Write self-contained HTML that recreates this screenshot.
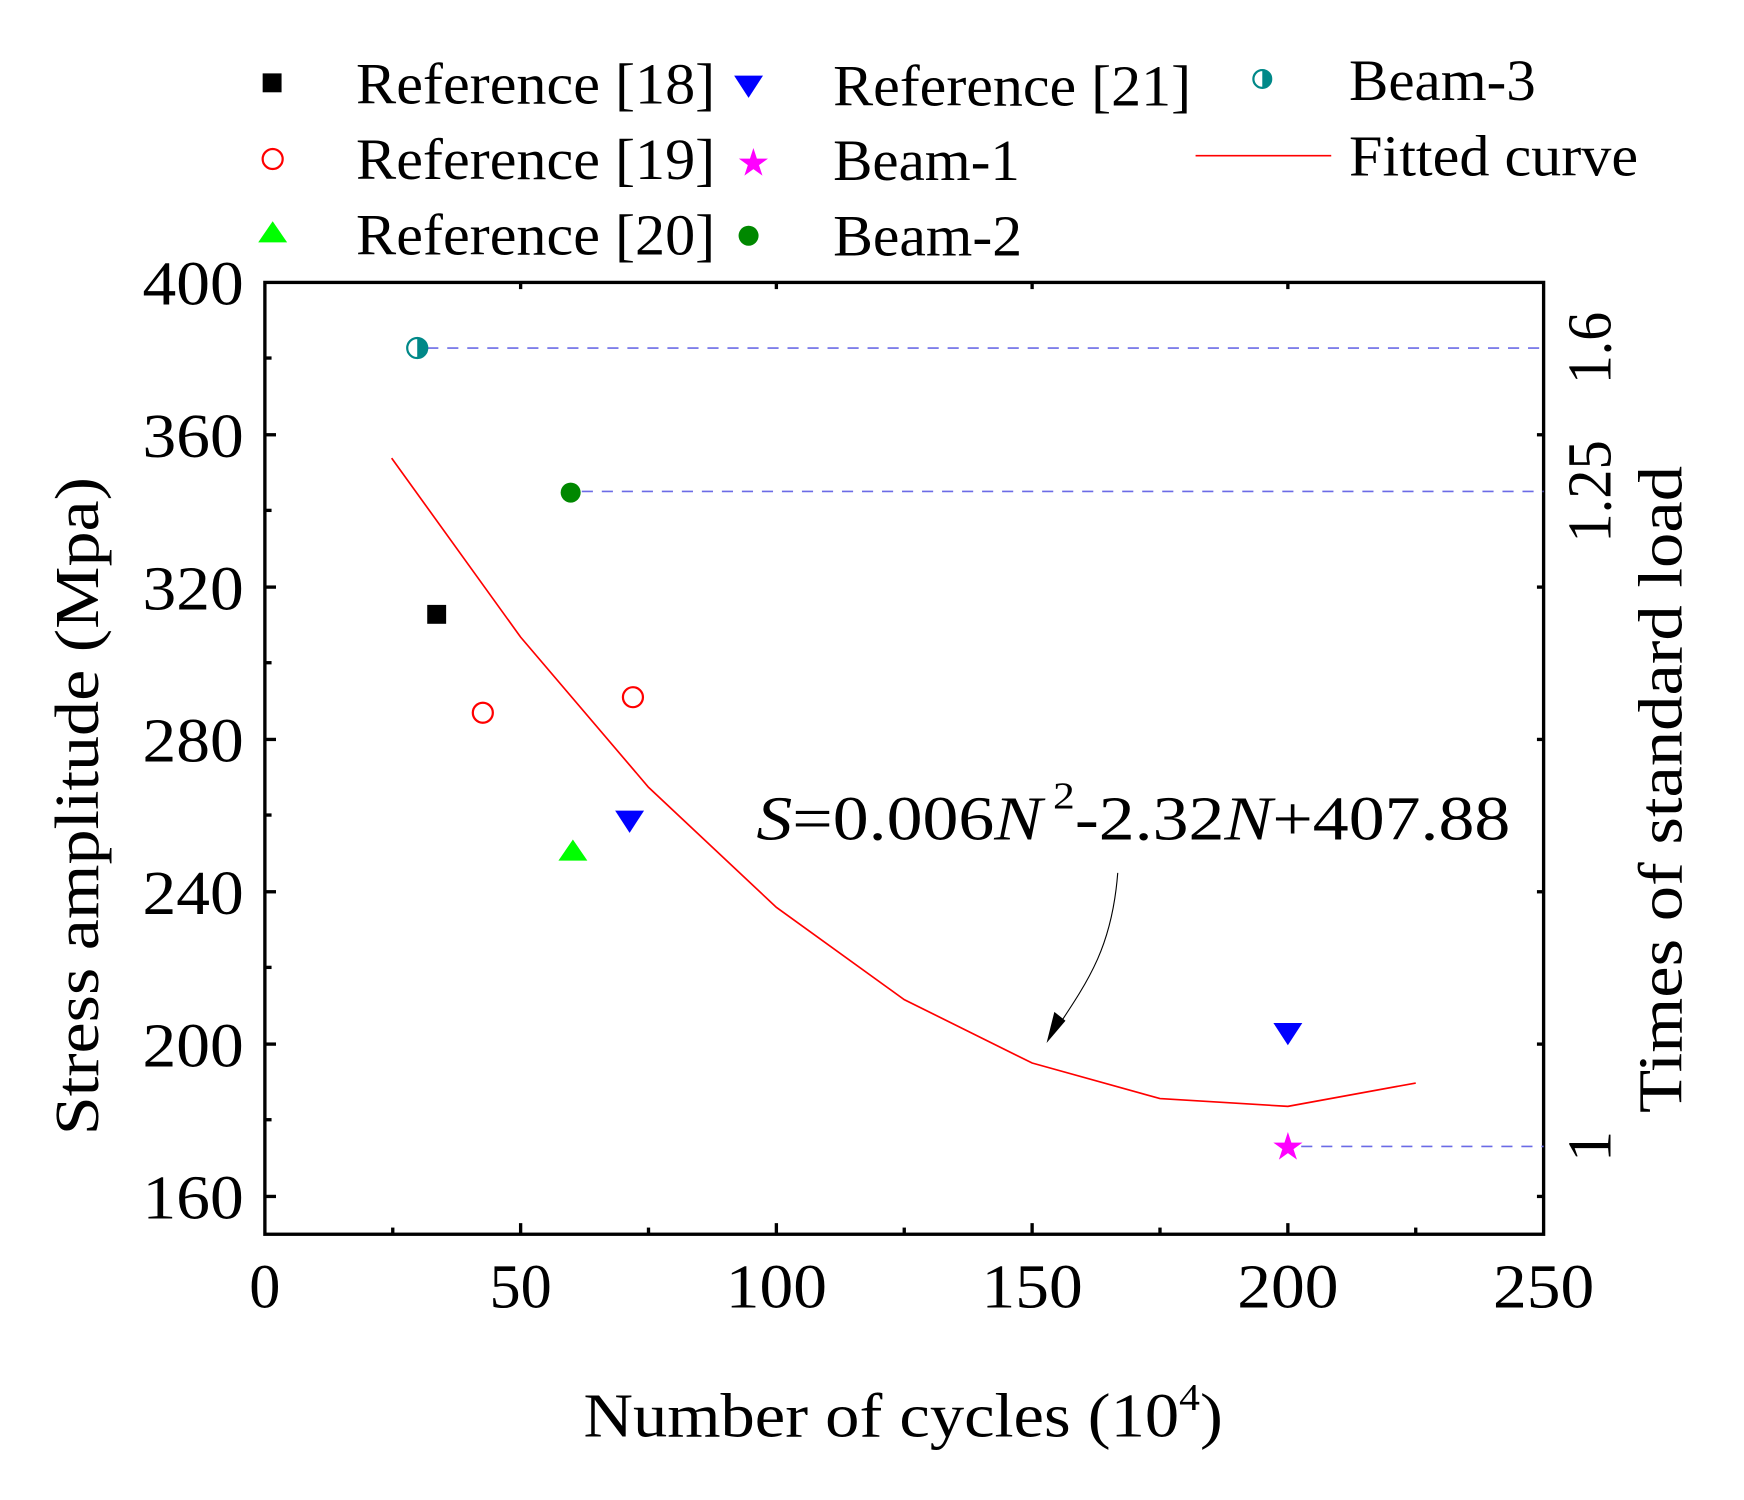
<!DOCTYPE html>
<html><head><meta charset="utf-8"><style>html,body{margin:0;padding:0;background:#fff}svg{display:block}</style></head>
<body>
<svg width="1744" height="1500" viewBox="0 0 1568 1349" xmlns="http://www.w3.org/2000/svg" font-family="Liberation Serif, serif">
<rect width="1568" height="1349" fill="#fff"/>
<!-- legend -->
<g font-size="52" fill="#000">
<rect x="236" y="66" width="17" height="17" fill="#000"/>
<text x="320" y="93" textLength="323" lengthAdjust="spacingAndGlyphs">Reference [18]</text>
<circle cx="245" cy="143" r="9" fill="none" stroke="#f00" stroke-width="2"/>
<text x="320" y="161" textLength="323" lengthAdjust="spacingAndGlyphs">Reference [19]</text>
<polygon points="245,199 258,218 232,218" fill="#0f0"/>
<text x="320" y="229" textLength="323" lengthAdjust="spacingAndGlyphs">Reference [20]</text>
<polygon points="660,68 686,68 673,88" fill="#00f"/>
<text x="749" y="95" textLength="322" lengthAdjust="spacingAndGlyphs">Reference [21]</text>
<text x="662" y="158" font-size="34" fill="#f0f">★</text>
<text x="749" y="162" textLength="168" lengthAdjust="spacingAndGlyphs">Beam-1</text>
<circle cx="673" cy="212" r="9" fill="#080"/>
<text x="749" y="230" textLength="170" lengthAdjust="spacingAndGlyphs">Beam-2</text>
<circle cx="1135" cy="71" r="8" fill="#fff" stroke="#088" stroke-width="2"/>
<path d="M1135,63 A8,8 0 0 1 1135,79 Z" fill="#088"/>
<text x="1213" y="90" textLength="168" lengthAdjust="spacingAndGlyphs">Beam-3</text>
<line x1="1075" y1="140" x2="1197" y2="140" stroke="#f00" stroke-width="1.5"/>
<text x="1213" y="158" textLength="260" lengthAdjust="spacingAndGlyphs">Fitted curve</text>
</g>
<!-- axes -->
<rect x="238" y="254" width="1150" height="856" fill="none" stroke="#000" stroke-width="3"/>
<g stroke="#000" stroke-width="3">
<line x1="468" y1="1110" x2="468" y2="1100"/><line x1="698" y1="1110" x2="698" y2="1100"/><line x1="928" y1="1110" x2="928" y2="1100"/><line x1="1158" y1="1110" x2="1158" y2="1100"/>
<line x1="353" y1="1110" x2="353" y2="1104"/><line x1="583" y1="1110" x2="583" y2="1104"/><line x1="813" y1="1110" x2="813" y2="1104"/><line x1="1043" y1="1110" x2="1043" y2="1104"/><line x1="1273" y1="1110" x2="1273" y2="1104"/>
<line x1="468" y1="254" x2="468" y2="260"/><line x1="698" y1="254" x2="698" y2="260"/><line x1="928" y1="254" x2="928" y2="260"/><line x1="1158" y1="254" x2="1158" y2="260"/>
<line x1="238" y1="391" x2="248" y2="391"/><line x1="238" y1="528" x2="248" y2="528"/><line x1="238" y1="665" x2="248" y2="665"/><line x1="238" y1="802" x2="248" y2="802"/><line x1="238" y1="939" x2="248" y2="939"/><line x1="238" y1="1076" x2="248" y2="1076"/>
<line x1="238" y1="322" x2="244" y2="322"/><line x1="238" y1="459" x2="244" y2="459"/><line x1="238" y1="596" x2="244" y2="596"/><line x1="238" y1="733" x2="244" y2="733"/><line x1="238" y1="870" x2="244" y2="870"/><line x1="238" y1="1007" x2="244" y2="1007"/>
<line x1="1388" y1="391" x2="1382" y2="391"/><line x1="1388" y1="528" x2="1382" y2="528"/><line x1="1388" y1="665" x2="1382" y2="665"/><line x1="1388" y1="802" x2="1382" y2="802"/><line x1="1388" y1="939" x2="1382" y2="939"/><line x1="1388" y1="1076" x2="1382" y2="1076"/>
</g>
<g font-size="56" fill="#000" text-anchor="end">
<text x="219" y="274" textLength="91" lengthAdjust="spacingAndGlyphs">400</text><text x="219" y="411" textLength="91" lengthAdjust="spacingAndGlyphs">360</text><text x="219" y="548" textLength="91" lengthAdjust="spacingAndGlyphs">320</text><text x="219" y="685" textLength="91" lengthAdjust="spacingAndGlyphs">280</text><text x="219" y="822" textLength="91" lengthAdjust="spacingAndGlyphs">240</text><text x="219" y="959" textLength="91" lengthAdjust="spacingAndGlyphs">200</text><text x="219" y="1096" textLength="91" lengthAdjust="spacingAndGlyphs">160</text>
</g>
<g font-size="56" fill="#000" text-anchor="middle">
<text x="238" y="1176">0</text><text x="468" y="1176">50</text><text x="698" y="1176" textLength="91" lengthAdjust="spacingAndGlyphs">100</text><text x="928" y="1176" textLength="91" lengthAdjust="spacingAndGlyphs">150</text><text x="1158" y="1176" textLength="91" lengthAdjust="spacingAndGlyphs">200</text><text x="1388" y="1176" textLength="91" lengthAdjust="spacingAndGlyphs">250</text>
<text x="812" y="1292" textLength="575" lengthAdjust="spacingAndGlyphs">Number of cycles (10<tspan font-size="34" dy="-24">4</tspan><tspan dy="24">)</tspan></text>
<text transform="translate(88,725) rotate(-90)" textLength="592" lengthAdjust="spacingAndGlyphs">Stress amplitude (Mpa)</text>
<text transform="translate(1512,710) rotate(-90)" textLength="582" lengthAdjust="spacingAndGlyphs">Times of standard load</text>
<text transform="translate(1448,313) rotate(-90)" textLength="65" lengthAdjust="spacingAndGlyphs">1.6</text>
<text transform="translate(1448,442) rotate(-90)" textLength="92" lengthAdjust="spacingAndGlyphs">1.25</text>
<text transform="translate(1448,1031) rotate(-90)">1</text>
</g>
<!-- dashed lines -->
<g stroke="#6b6be6" stroke-width="1.5" stroke-dasharray="10,8">
<line x1="384" y1="313" x2="1388" y2="313"/>
<line x1="523" y1="442" x2="1388" y2="442"/>
<line x1="1170" y1="1031" x2="1388" y2="1031"/>
</g>
<!-- fitted curve -->
<polyline points="352,412 468,573 583,708 698,816 813,899 928,956 1043,988 1158,995 1273,974" fill="none" stroke="#f00" stroke-width="1.5"/>
<!-- data -->
<circle cx="375" cy="313" r="9" fill="#fff" stroke="#088" stroke-width="2"/>
<path d="M375,304 A9,9 0 0 1 375,322 Z" fill="#088"/>
<circle cx="513" cy="443" r="9" fill="#080"/>
<rect x="384" y="544" width="17" height="17" fill="#000"/>
<circle cx="434" cy="641" r="9" fill="none" stroke="#f00" stroke-width="2"/>
<circle cx="569" cy="627" r="9" fill="none" stroke="#f00" stroke-width="2"/>
<polygon points="515,755 528,774 502,774" fill="#0f0"/>
<polygon points="553,729 579,729 566,749" fill="#00f"/>
<polygon points="1145,920 1171,920 1158,940" fill="#00f"/>
<text x="1158" y="1043" font-size="34" fill="#f0f" text-anchor="middle">★</text>
<!-- annotation -->
<text x="680" y="755" font-size="56" fill="#000" textLength="678" lengthAdjust="spacingAndGlyphs"><tspan font-style="italic">S</tspan>=0.006<tspan font-style="italic">N</tspan><tspan font-size="34" dy="-28"> 2</tspan><tspan dy="28">-2.32</tspan><tspan font-style="italic">N</tspan>+407.88</text>
<path d="M1005,785 C1000,850 980,880 950,925" fill="none" stroke="#000" stroke-width="1"/>
<polygon points="941,938 948,910 958,918" fill="#000"/>
</svg>
</body></html>
